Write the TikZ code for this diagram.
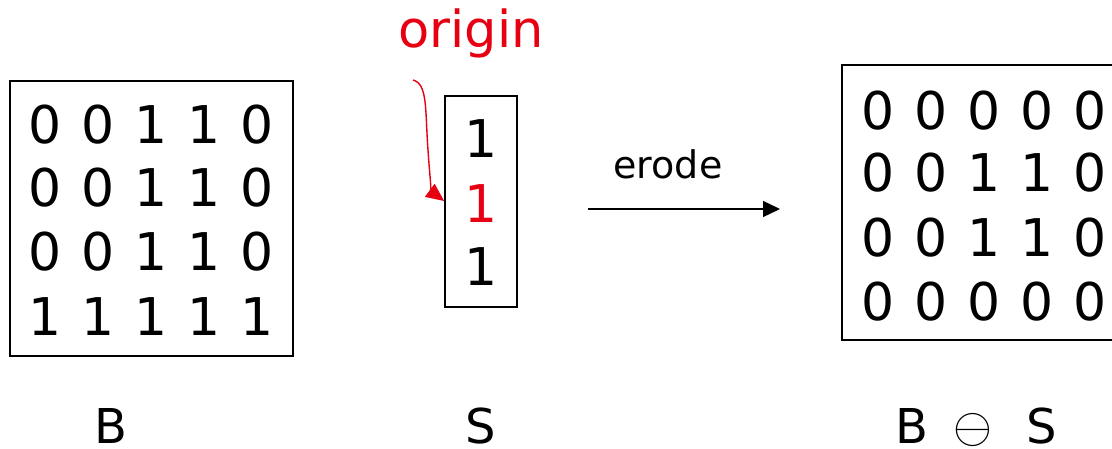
\RequirePackage{fix-cm}
\documentclass[tikz,border=0pt]{standalone}
\usepackage{fontspec}
\setmainfont{DejaVu Sans}
\newfontfamily\dv[WordSpace=1.21]{DejaVu Sans}
\usetikzlibrary{arrows.meta}
\definecolor{ored}{RGB}{230,0,18}
\tikzset{
  box/.style={draw=black, line width=1.6pt, inner sep=0pt},
  digits/.style={inner sep=0pt, font=\dv\fontsize{52}{60}\selectfont},
  lab/.style={inner sep=0pt, anchor=base, font=\fontsize{48}{56}\selectfont},
}
\begin{document}
\begin{tikzpicture}[x=1pt,y=-1pt]
\useasboundingbox (0,0) rectangle (1112,449);
% B box
\node[box, minimum width=283pt, minimum height=275pt] (Bbox) at (151.5,218.5) {};
\node[digits] (b1) at (151,125) {0 0 1 1 0};
\node[digits] (b2) at (151,188) {0 0 1 1 0};
\node[digits] (b3) at (151,252) {0 0 1 1 0};
\node[digits] (b4) at (151,317) {1 1 1 1 1};
% S box
\node[box, minimum width=72pt, minimum height=211pt] (Sbox) at (481,201.5) {};
\node[digits] (s1) at (481,139) {1};
\node[digits, text=ored] (s2) at (481,204) {1};
\node[digits] (s3) at (481,267) {1};
% result box
\node[box, minimum width=283pt, minimum height=275pt] (Rbox) at (983.5,202.5) {};
\node[digits] (r1) at (984,111) {0 0 0 0 0};
\node[digits] (r2) at (984,173) {0 0 1 1 0};
\node[digits] (r3) at (984,238) {0 0 1 1 0};
\node[digits] (r4) at (984,302) {0 0 0 0 0};
% labels
\node[lab] (Blab) at (111,443) {B};
\node[lab] (Slab) at (481,443) {S};
\node[lab] (BRlab) at (912,443) {B};
\node[inner sep=0pt, font=\fontsize{50}{56}\selectfont] (ominus) at (973,430) {$\ominus$};
\node[lab] (SRlab) at (1042,443) {S};
\node[lab, text=ored, font=\fontsize{51}{60}\selectfont] (orig) at (471,48) {origin};
% erode arrow
\node[inner sep=0pt, anchor=base, font=\fontsize{38}{44}\selectfont] (erode) at (668,179) {erode};
\coordinate (ea) at (588,209);
\coordinate (eb) at (780,209);
\draw[line width=1.4pt, -{Triangle[length=17pt,width=16pt]}] (ea) -- (eb);
% origin arrow
\coordinate (o1) at (413,80);
\draw[ored, line width=1.4pt, -{Triangle[length=18pt,width=16pt]}] (o1) .. controls (428,84) and (425,110) .. (428,150) .. controls (430,180) and (432,192) .. (Sbox.west |- 0,201);
\end{tikzpicture}
\end{document}
